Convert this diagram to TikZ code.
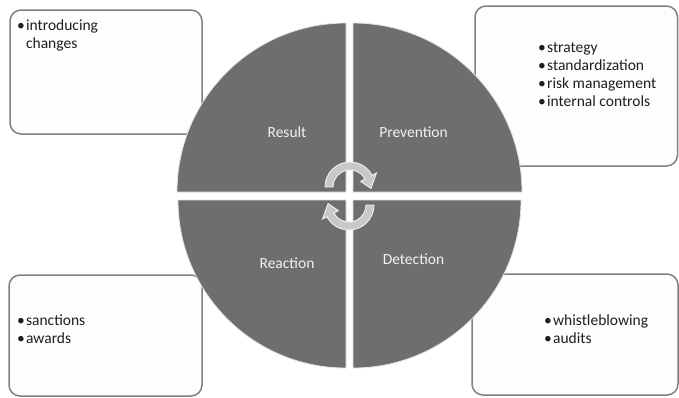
\documentclass[tikz,border=0pt]{standalone}
\usepackage{fontspec}
\setmainfont{Carlito}
\usetikzlibrary{calc}
\definecolor{quad}{RGB}{110,110,110}
\definecolor{quadedge}{RGB}{225,225,225}
\definecolor{boxedge}{RGB}{128,128,128}
\definecolor{boxfill}{RGB}{253,253,253}
\definecolor{arrowfill}{RGB}{200,200,200}
\definecolor{arrowedge}{RGB}{240,240,240}
\definecolor{labeltext}{RGB}{242,242,242}
\definecolor{bodytext}{RGB}{30,30,30}
\begin{document}
\begin{tikzpicture}[x=1pt,y=-1pt,
  infobox/.style={draw=boxedge,fill=boxfill,line width=1.5pt,rounded corners=11pt},
  quadrant/.style={fill=quad,draw=quadedge,line width=0.8pt},
  cyclearrow/.style={fill=arrowfill,draw=arrowedge,line width=0.9pt,line join=miter},
  qlabel/.style={text=labeltext,font=\fontsize{15.5}{18.3}\selectfont,inner sep=0pt,anchor=base},
  bullets/.style={text=bodytext,font=\fontsize{15.5}{18.3}\selectfont,inner sep=0pt,anchor=base west}
]
\useasboundingbox (0,0) rectangle (679,397);
% boxes
\draw[infobox] (10,10) rectangle (202,134);
\draw[infobox] (475,6) rectangle (677.5,166);
\draw[infobox] (9,275) rectangle (202,396);
\draw[infobox] (472,274) rectangle (678,395);
% quadrants
\draw[quadrant] (346,192) -- (177,192) arc[start angle=180,end angle=270,radius=169] -- cycle;
\draw[quadrant] (353,192) -- (522,192) arc[start angle=0,end angle=-90,radius=169] -- cycle;
\draw[quadrant] (346,200) -- (178,200) arc[start angle=180,end angle=90,radius=168] -- cycle;
\draw[quadrant] (353,200) -- (521,200) arc[start angle=0,end angle=90,radius=168] -- cycle;
% cycle arrows
\coordinate (ca) at (350,187);
\coordinate (cb) at (349,205);
\draw[cyclearrow] ($(ca)+(180:25)$) arc[start angle=180,end angle=332,radius=25]
  -- ($(ca)+(332:30)$) -- ($(ca)+(4:21)$) -- ($(ca)+(332:12)$) -- ($(ca)+(332:17)$)
  arc[start angle=332,end angle=180,radius=17] -- cycle;
\draw[cyclearrow] ($(cb)+(0:25)$) arc[start angle=0,end angle=152,radius=25]
  -- ($(cb)+(152:30)$) -- ($(cb)+(184:21)$) -- ($(cb)+(152:12)$) -- ($(cb)+(152:17)$)
  arc[start angle=152,end angle=0,radius=17] -- cycle;
% quadrant labels
\node[qlabel] (result) at (287,137.3) {Result};
\node[qlabel] (prevention) at (413.5,137.3) {Prevention};
\node[qlabel] (reaction) at (287,268) {Reaction};
\node[qlabel] (detection) at (413.5,264) {Detection};
% box texts
\node[bullets] (tl) at (17,30) {\begin{tabular}[t]{@{}l@{\hspace{1.2pt}}l@{}}•&introducing\\ &changes\end{tabular}};
\node[bullets] (tr) at (538,52) {\begin{tabular}[t]{@{}l@{\hspace{1.2pt}}l@{}}•&strategy\\ •&standardization\\ •&risk management\\ •&internal controls\end{tabular}};
\node[bullets] (bl) at (17,325) {\begin{tabular}[t]{@{}l@{\hspace{1.2pt}}l@{}}•&sanctions\\ •&awards\end{tabular}};
\node[bullets] (br) at (544,325) {\begin{tabular}[t]{@{}l@{\hspace{1.2pt}}l@{}}•&whistleblowing\\ •&audits\end{tabular}};
\end{tikzpicture}
\end{document}
